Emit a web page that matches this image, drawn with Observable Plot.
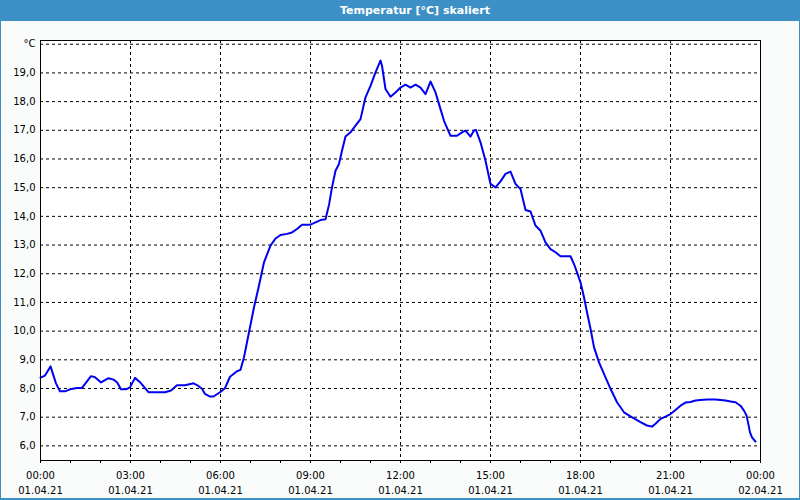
<!DOCTYPE html>
<html>
<head>
<meta charset="utf-8">
<script src="https://cdn.jsdelivr.net/npm/d3@7"></script>
<script src="https://cdn.jsdelivr.net/npm/@observablehq/plot@0.6"></script>
<style>
  html, body { margin: 0; padding: 0; background: #fafcfb; }
  #wrap { position: relative; width: 800px; height: 500px; overflow: hidden; background: #fafcfb; }
  #title { position: absolute; left: 0; top: 0; width: 800px; height: 21px; background: #3d90c5;
           color: #fff; font: bold 11px "DejaVu Sans", sans-serif; line-height: 21px; text-align: center; }
  #title span { position: relative; left: 15px; }
  #chart { position: absolute; left: 0; top: 21px; }
  .bl { position: absolute; background: #3d90c5; }
</style>
</head>
<body>
<div id="wrap">
  <div id="title"><span>Temperatur [°C] skaliert</span></div>
  <div id="chart"></div>
  <div class="bl" style="left:0;top:21px;width:1px;height:479px"></div>
  <div class="bl" style="right:0;top:21px;width:1px;height:479px"></div>
  <div class="bl" style="left:0;bottom:0;width:800px;height:2px"></div>
</div>
<script>
// Minutes after 01.04.21 00:00
const minutes = [0, 9, 20, 31, 39, 49, 59, 73, 83, 101, 109, 121, 136, 146, 153, 161, 171, 179, 189, 199,
  216, 229, 249, 261, 273, 289, 306, 313, 323, 329, 339, 346, 359, 369, 379, 393, 400, 407, 417, 427,
  437, 447, 460, 470, 480, 493, 503, 513, 523, 540, 550, 560, 570, 577, 583, 590, 597, 603, 610, 620,
  630, 640, 650, 660, 670, 680, 683, 690, 700, 710, 720, 730, 740, 750, 760, 770, 780, 790, 799, 807,
  817, 820, 833, 843, 850, 860, 867, 871, 880, 890, 900, 910, 920, 930, 940, 950, 960, 970, 980, 990,
  1000, 1010, 1020, 1030, 1040, 1060, 1067, 1073, 1080, 1087, 1093, 1100, 1107, 1117, 1127, 1140, 1153, 1167, 1180, 1200,
  1213, 1223, 1230, 1240, 1250, 1260, 1270, 1280, 1290, 1300, 1310, 1320, 1333, 1350, 1360, 1370, 1380, 1390, 1400, 1407,
  1412, 1415, 1419, 1423, 1430];
// Temperature in °C
const temps = [8.38, 8.45, 8.77, 8.18, 7.90, 7.90, 7.97, 8.02, 8.02, 8.43, 8.39, 8.21, 8.36, 8.31, 8.22, 7.97, 7.97, 8.04, 8.37, 8.22,
  7.87, 7.87, 7.87, 7.93, 8.11, 8.11, 8.18, 8.12, 7.99, 7.81, 7.72, 7.72, 7.87, 8.01, 8.41, 8.60, 8.65, 9.09, 9.96, 10.83,
  11.59, 12.40, 12.98, 13.23, 13.35, 13.39, 13.44, 13.56, 13.71, 13.71, 13.79, 13.87, 13.90, 14.40, 15.01, 15.59, 15.83, 16.29, 16.78, 16.93,
  17.16, 17.39, 18.15, 18.55, 19.02, 19.43, 19.25, 18.44, 18.17, 18.32, 18.49, 18.59, 18.49, 18.59, 18.49, 18.26, 18.70, 18.32, 17.80, 17.33,
  16.93, 16.81, 16.81, 16.93, 16.99, 16.78, 16.99, 17.01, 16.58, 15.94, 15.13, 15.01, 15.22, 15.48, 15.56, 15.13, 14.95, 14.22, 14.17, 13.68,
  13.50, 13.09, 12.86, 12.75, 12.61, 12.61, 12.34, 12.05, 11.70, 11.18, 10.66, 10.08, 9.44, 8.91, 8.51, 7.99, 7.52, 7.17, 7.03, 6.83,
  6.71, 6.67, 6.77, 6.94, 7.02, 7.11, 7.25, 7.40, 7.51, 7.53, 7.58, 7.60, 7.62, 7.62, 7.60, 7.58, 7.55, 7.52, 7.40, 7.23,
  7.06, 6.82, 6.47, 6.30, 6.15];
// Y tick values (20 is the unit label)
const yTicks = [6, 7, 8, 9, 10, 11, 12, 13, 14, 15, 16, 17, 18, 19, 20];
const startDate = Date.UTC(2021, 3, 1, 0, 0);
const endDate = Date.UTC(2021, 3, 2, 0, 0);

const data = minutes.map((m, i) => ({ t: new Date(startDate + m * 60000), v: temps[i] }));
const majorTicks = d3.utcHour.every(3).range(new Date(startDate), new Date(endDate + 1));
const minorTicks = d3.utcHour.every(1).range(new Date(startDate), new Date(endDate + 1));

const plot = Plot.plot({
  width: 800,
  height: 479,
  marginLeft: 40,
  marginRight: 40,
  marginTop: 19,
  marginBottom: 40,
  style: { background: "transparent", fontFamily: "DejaVu Sans, sans-serif", fontSize: "10px", color: "#000" },
  x: { type: "utc", domain: [new Date(startDate), new Date(endDate)] },
  y: { domain: [5.49, 20.13] },
  marks: [
    Plot.frame({ fill: "#fff" }),
    Plot.gridY(yTicks, { stroke: "#000", strokeOpacity: 1, strokeDasharray: "3,3" }),
    Plot.gridX(majorTicks, { stroke: "#000", strokeOpacity: 1, strokeDasharray: "3,3" }),
    Plot.axisY(yTicks, { tickSize: 0, tickPadding: 5, label: null,
      tickFormat: d => d === 20 ? "°C" : d.toFixed(1).replace(".", ",") }),
    Plot.axisX(minorTicks, { tickSize: 3, tickFormat: () => "", label: null }),
    Plot.axisX(majorTicks, { tickSize: 0, tickPadding: 11, label: null, tickFormat: d3.utcFormat("%H:%M") }),
    Plot.axisX(majorTicks, { tickSize: 0, tickPadding: 26, label: null, tickFormat: d3.utcFormat("%d.%m.%y") }),
    Plot.line(data, { x: "t", y: "v", stroke: "#0000f0", strokeWidth: 2 }),
    Plot.frame({ stroke: "#000" })
  ]
});
document.getElementById("chart").appendChild(plot);
</script>
</body>
</html>
